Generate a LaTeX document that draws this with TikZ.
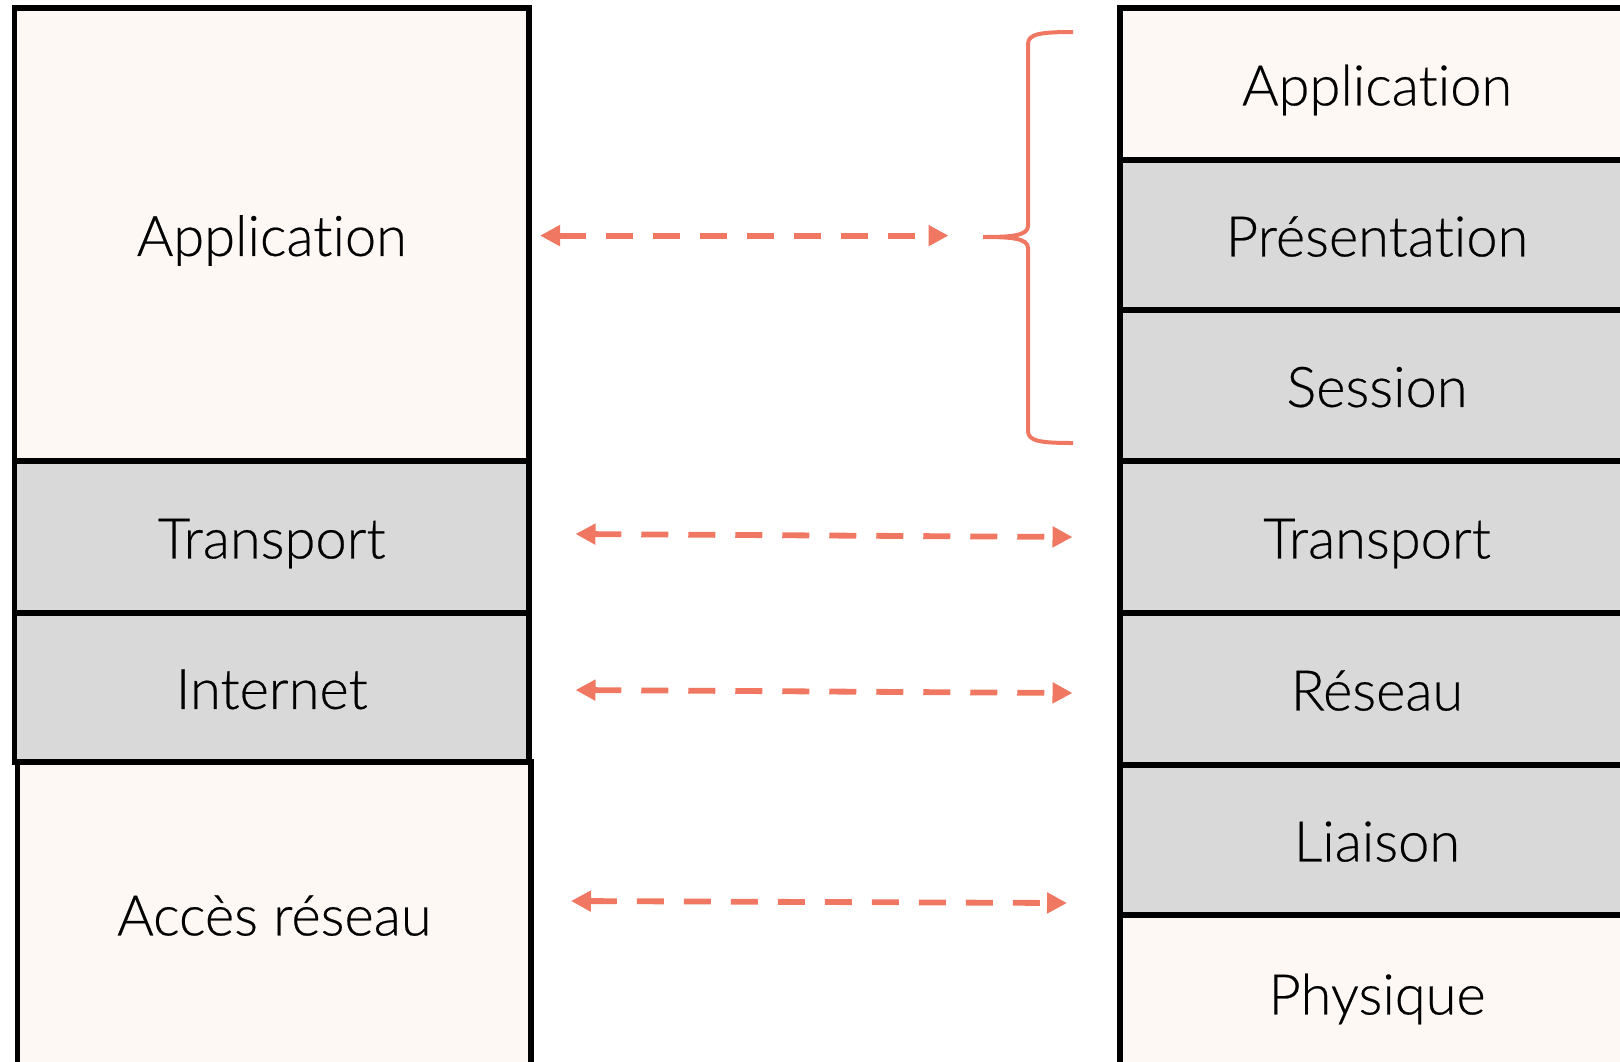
\documentclass[tikz,border=0pt]{standalone}
\usepackage{fontspec}
\setmainfont{Lato}[UprightFont={* Light}, UprightFeatures={FakeBold=0.4}, Ligatures={NoCommon}]
\usetikzlibrary{arrows.meta}
\definecolor{coral}{RGB}{240,120,98}
\definecolor{creamc}{RGB}{253,248,244}
\definecolor{greyc}{RGB}{217,217,217}
\begin{document}
\begin{tikzpicture}[x=0.5pt,y=-0.5pt,
  layer/.style={draw=black, line width=2.75pt, rectangle, inner sep=0pt, text=black,
                text height=21.4pt, text depth=0pt,
                font=\fontsize{28}{32}\selectfont},
  cream/.style={layer, fill=creamc},
  grey/.style={layer, fill=greyc},
  link/.style={draw=coral, line width=2.9pt, dash pattern=on 13.5pt off 10pt,
               {Triangle[length=10pt,width=10pt]}-{Triangle[length=10pt,width=10pt]}},
  bracestyle/.style={draw=coral, line width=2pt}]
\useasboundingbox (0,0) rectangle (1620,1061);
\fill[white] (0,0) rectangle (1620,1061);
\clip (0,0) rectangle (1620,1061);

% left column (TCP/IP)
\node[cream, minimum width=257.25pt, minimum height=226.5pt] (lapp) at (271.75,234.5) {Application};
\node[grey,  minimum width=257.25pt, minimum height=76pt]    (ltra) at (271.75,537)   {Transport};
\node[grey,  minimum width=257.25pt, minimum height=74.5pt]  (lint) at (271.75,687.5) {Internet};
\node[cream, minimum width=256.75pt, minimum height=152pt]   (lacc) at (274.25,914)   {Accès réseau};

% right column (OSI)
\node[cream, minimum width=257pt, minimum height=76pt] (rapp) at (1377,84)    {Application};
\node[grey,  minimum width=257pt, minimum height=75pt] (rpre) at (1377,235)   {Présentation};
\node[grey,  minimum width=257pt, minimum height=75.5pt] (rses) at (1377,385.5) {Session};
\node[grey,  minimum width=257pt, minimum height=76pt] (rtra) at (1377,537)   {Transport};
\node[grey,  minimum width=257pt, minimum height=76pt] (rres) at (1377,689)   {Réseau};
\node[grey,  minimum width=257pt, minimum height=75pt] (rlia) at (1377,840)   {Liaison};
\node[cream, minimum width=257pt, minimum height=78pt] (rphy) at (1377,993)   {Physique};

% connectors
\coordinate (a1l) at (540,235.6);  \coordinate (a1r) at (948.5,235.6);
\coordinate (a2l) at (575.5,534);  \coordinate (a2r) at (1072.5,537);
\coordinate (a3l) at (575.5,690);  \coordinate (a3r) at (1072.5,693);
\coordinate (a4l) at (571,901);    \coordinate (a4r) at (1067,903);
\draw[link] (a1l) -- (a1r);
\draw[link] (a2l) -- (a2r);
\draw[link] (a3l) -- (a3r);
\draw[link] (a4l) -- (a4r);

% brace
\coordinate (btop) at (1073,32);
\coordinate (btip) at (983,237);
\coordinate (bbot) at (1073,443);
\draw[bracestyle] (btop) .. controls (1040,32) and (1028,34) .. (1028,44)
  -- (1028,226) .. controls (1028,236) and (1010,237) .. (btip)
  .. controls (1010,237) and (1028,238) .. (1028,248)
  -- (1028,431) .. controls (1028,441) and (1040,443) .. (bbot);
\end{tikzpicture}
\end{document}
